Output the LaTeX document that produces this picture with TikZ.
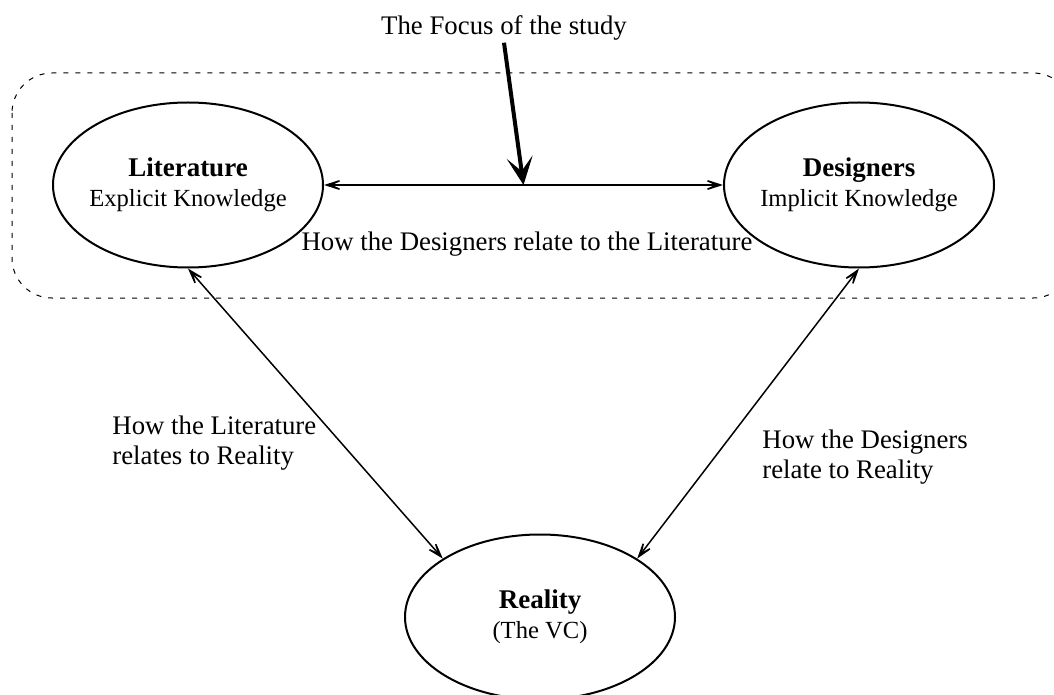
\documentclass[tikz,border=0pt]{standalone}
\usepackage{fontspec}
\setmainfont{Liberation Serif}
\usetikzlibrary{shapes.geometric,arrows.meta}

\begin{document}
\begin{tikzpicture}[x=0.5pt,y=-0.5pt,
  font=\fontsize{13.4}{15}\selectfont,
  oval/.style={ellipse, draw, line width=1pt, minimum width=135pt, minimum height=82.5pt, inner sep=0pt},
  inoval/.style={align=center, font=\fontsize{12.3}{15}\selectfont},
  link/.style={>={Stealth[length=14pt,width=9pt,inset=10pt]}, <->, line width=0.75pt},
  note/.style={align=left, anchor=west, inner sep=0pt}]
\useasboundingbox (0,0) rectangle (1054,695);

% Focus area
\draw[dash pattern=on 2.5pt off 3.5pt, line width=0.5pt, rounded corners=20pt] (12,73) rectangle (1073,298);

% Ovals
\node[oval, label={[inoval]center:{\textbf{\fontsize{13.5}{15}\selectfont Literature}\\Explicit Knowledge}}] (lit) at (188,185) {};
\node[oval, label={[inoval]center:{\textbf{\fontsize{13.5}{15}\selectfont Designers}\\Implicit Knowledge}}] (des) at (859,185) {};
\node[oval, label={[inoval]center:{\textbf{\fontsize{13.5}{15}\selectfont Reality}\\(The VC)}}] (real) at (540,617) {};

% Links
\draw[link] (lit.east) -- coordinate (mid) (des.west);
\draw[link] (lit.south) -- (real.149);
\draw[link] (des.south) -- (real.31);

% Focus pointer
\node[inner sep=1pt] (focus) at (504,28) {The Focus of the study};
\draw[line width=2pt, -{Stealth[length=14pt,width=13pt,inset=7pt]}] (focus.south) -- (mid);

% Labels
\node (between) at (527,244) {How the Designers relate to the Literature};
\node[note] (litreal) at (112,443) {How the Literature\\relates to Reality};
\node[note] (desreal) at (762,457) {How the Designers\\relate to Reality};

\end{tikzpicture}
\end{document}
